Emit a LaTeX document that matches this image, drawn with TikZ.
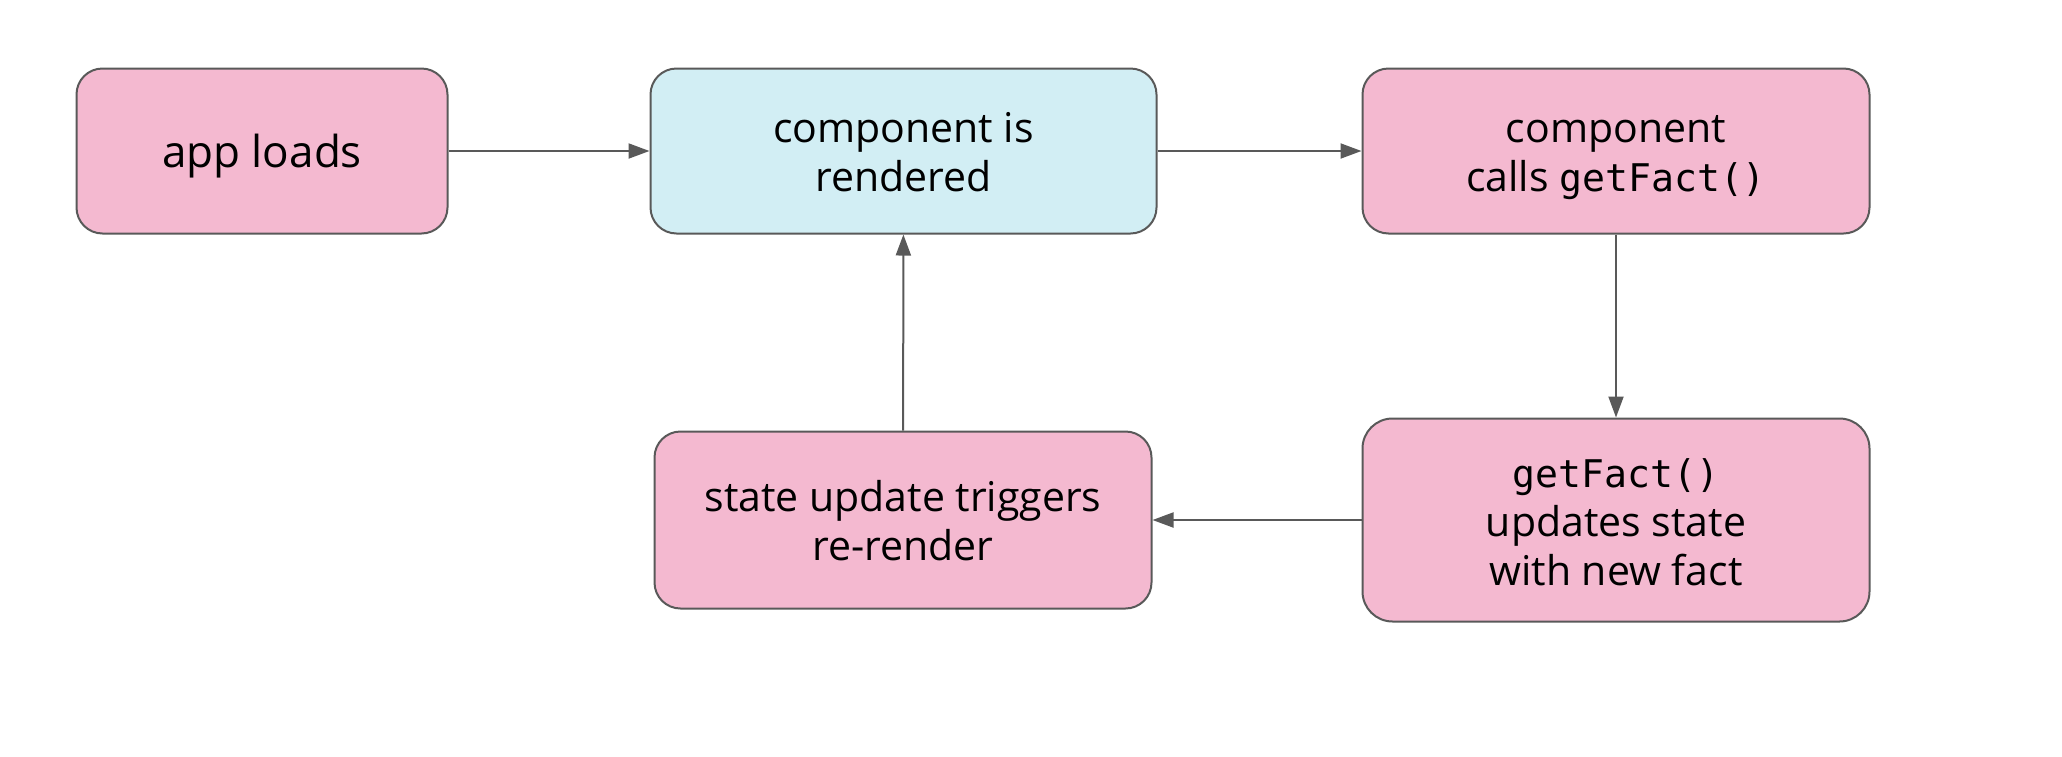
\documentclass[tikz,border=0pt]{standalone}
\usepackage{fontspec}
\setmainfont{Open Sans}
\setmonofont{DejaVu Sans Mono}[Scale=0.93]
\usepackage{tikz}
\usetikzlibrary{shapes.geometric, arrows.meta, positioning}
\definecolor{pinkfill}{HTML}{F4B9D0}
\definecolor{bluefill}{HTML}{D2EEF4}
\definecolor{edgegray}{HTML}{595959}
\newcommand{\topgap}{\rule{0pt}{23.5pt}}
\tikzstyle{stepbox} = [rectangle, rounded corners=13pt, minimum height=82.5pt, text centered, draw=edgegray, line width=1pt, fill=pinkfill, font=\fontsize{20.5}{24.5}\selectfont]
\tikzstyle{renderbox} = [stepbox, fill=bluefill]
\tikzstyle{arrow} = [line width=1pt, draw=edgegray, -{Triangle[length=10.5pt, width=7.5pt]}]

\begin{document}
\begin{tikzpicture}
\useasboundingbox (0,0) rectangle (1031pt,-378pt);

% Top row
\node (load) [stepbox, minimum width=185.5pt, font=\fontsize{22}{27}\selectfont] at (131pt,-75.5pt) {
    \begin{tabular}{c}
    \rule{0pt}{24.5pt}app loads
    \end{tabular}
};
\node (render) [renderbox, minimum width=253pt, right=100.5pt of load] {
    \begin{tabular}{c}
    \topgap component is \\
    rendered
    \end{tabular}
};
\node (call) [stepbox, minimum width=253.5pt, right=102pt of render] {
    \begin{tabular}{c}
    \topgap component \\
    calls \texttt{getFact()}
    \end{tabular}
};

% Bottom row
\node (update) [stepbox, minimum width=253.5pt, minimum height=101.5pt, rounded corners=15pt, below=91.5pt of call] {
    \begin{tabular}{c}
    \topgap \texttt{getFact()} \\
    updates state \\
    with new fact
    \end{tabular}
};
\node (trigger) [stepbox, minimum width=248.5pt, minimum height=88.5pt, left=104.5pt of update] {
    \begin{tabular}{c}
    \topgap state update triggers \\
    re-render
    \end{tabular}
};

% Arrows
\draw [arrow] (load) -- (render);
\draw [arrow] (render) -- (call);
\draw [arrow] (call) -- (update);
\draw [arrow] (update) -- (trigger);
\draw [arrow] (trigger) -- (render);

\end{tikzpicture}
\end{document}
